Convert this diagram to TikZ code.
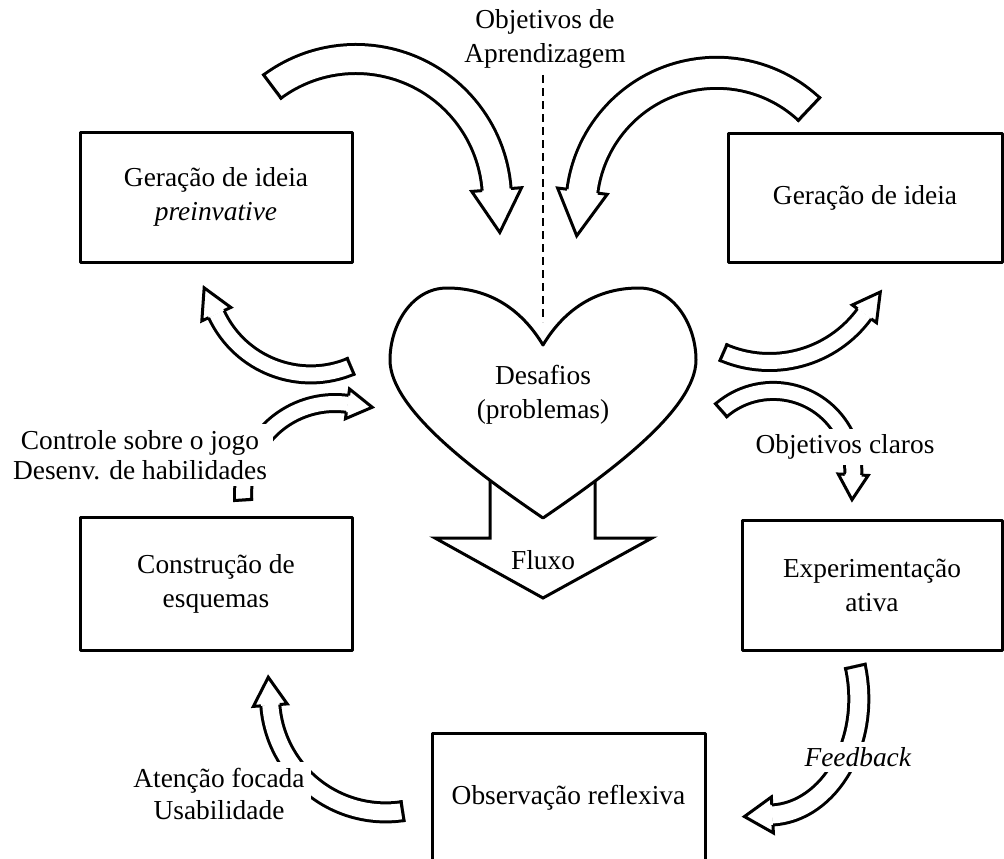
\documentclass[tikz,border=0pt]{standalone}
\usepackage{fontspec}
\setmainfont{Liberation Serif}
\usetikzlibrary{decorations.markings}

% outline width of the block arrows
\newcommand\olw{3}
% block arrow along a centre line: #1 band width, #2 head width, #3 head length, #4 centre line
\newcommand\bandarrow[4]{%
  \draw[line width=\olw pt, double=white, double distance=#1pt,
    postaction={decorate, decoration={markings,
      mark=at position 0 with {\draw[line width=\olw pt]
          ({\olw/2},{-(#1/2+\olw)}) -- ({\olw/2},{#1/2+\olw});},
      mark=at position 0.998 with {\filldraw[fill=white, line width=\olw pt,
          line join=miter, line cap=square]
          (0,{-(#1+\olw)/2}) -- (0,{-#2/2}) -- (#3,0) -- (0,{#2/2}) -- (0,{(#1+\olw)/2});}}}]
    #4;}
% circular block arrow: centre #1,#2, radius #3, from angle #4 to #5, then as above
\newcommand\arcband[8]{%
  \bandarrow{#6}{#7}{#8}{([shift={(#1,#2)}]#4:#3) arc[start angle=#4, end angle=#5, radius=#3]}}

\tikzset{
  txt/.style={font=\fontsize{27.4}{34}\selectfont, align=center, inner sep=0pt},
  cover/.style={txt, fill=white, inner sep=6pt},
  stage/.style={txt, draw, line width=3pt},
}

\begin{document}
\begin{tikzpicture}[x=1pt, y=-1pt, line join=round]
\useasboundingbox (0,0) rectangle (1004,859);
\clip (0,0) rectangle (1004,859);

% large arrows into the challenge
\arcband{356}{200}{141}{-127}{-4}{26}{50}{43}
\arcband{716.8}{208.3}{135.5}{-46.5}{-173}{28}{50}{45}
% arrows from the challenge up to idea generation
\arcband{310.7}{270.4}{104}{66.6}{155.3}{14}{32}{29}
\arcband{769.5}{244.5}{117.5}{113.8}{36}{14}{30}{27}
% arrows around the middle
\arcband{335}{495}{92}{-184}{-82}{14}{30}{25}
\arcband{773.3}{470.9}{80}{-131.7}{3}{14}{30}{25}
% arrows around the bottom
\arcband{385.7}{696.7}{115.7}{80.9}{176}{16}{34}{28}
\bandarrow{17}{36}{28}{(855,665) .. controls (872,740) and (830,812) .. (772,815)}

% stages
\node[stage, minimum width=272, minimum height=130] (pre) at (216,197)
  {Geração de ideia\\\textit{preinvative}};
\node[stage, minimum width=274, minimum height=129] (ger) at (865,197.5)
  {Geração de ideia};
\node[stage, minimum width=272, minimum height=133] (con) at (216,583.5)
  {Construção de\\esquemas};
\node[stage, minimum width=260, minimum height=130] (exp) at (872,585)
  {Experimentação\\ativa};
\node[stage, minimum width=273, minimum height=130] (obs) at (568.5,798)
  {Observação reflexiva};

% flow arrow below the heart
\draw[line width=3pt, fill=white, line join=miter]
  (490,470) -- (490,538) -- (435,538) -- (543,598) -- (652,538) -- (595,538) -- (595,470);
\node[txt] (flx) at (543,560) {Fluxo};

% heart
\draw[line width=3pt, fill=white]
  (543,345) .. controls (525,315) and (495,288) .. (447,288)
  .. controls (412,288) and (390,325) .. (390,360)
  .. controls (390,410) and (480,475) .. (543,518)
  .. controls (606,475) and (696,410) .. (696,360)
  .. controls (696,325) and (674,288) .. (639,288)
  .. controls (591,288) and (561,315) .. (543,345) -- cycle;
\node[txt] (des) at (543,395) {Desafios\\(problemas)};

% learning objectives
\node[txt] (obj) at (545,39) {Objetivos de\\Aprendizagem};
\coordinate (notch) at (543,322);
\draw[line width=1.5pt, dash pattern=on 8pt off 5pt] (543,75) -- (notch);

% labels laid over the arrows
\node[cover, font=\fontsize{27.4}{30}\selectfont] (ctl) at (140,455)
  {Controle sobre o jogo\\Desenv. de habilidades};
\node[cover] (cla) at (845,447) {Objetivos claros};
\node[cover, font=\fontsize{27.4}{32}\selectfont] (ate) at (219,794)
  {Atenção focada\\Usabilidade};
\node[cover, inner sep=5pt] (fee) at (858,757) {\textit{Feedback}};
\end{tikzpicture}
\end{document}
